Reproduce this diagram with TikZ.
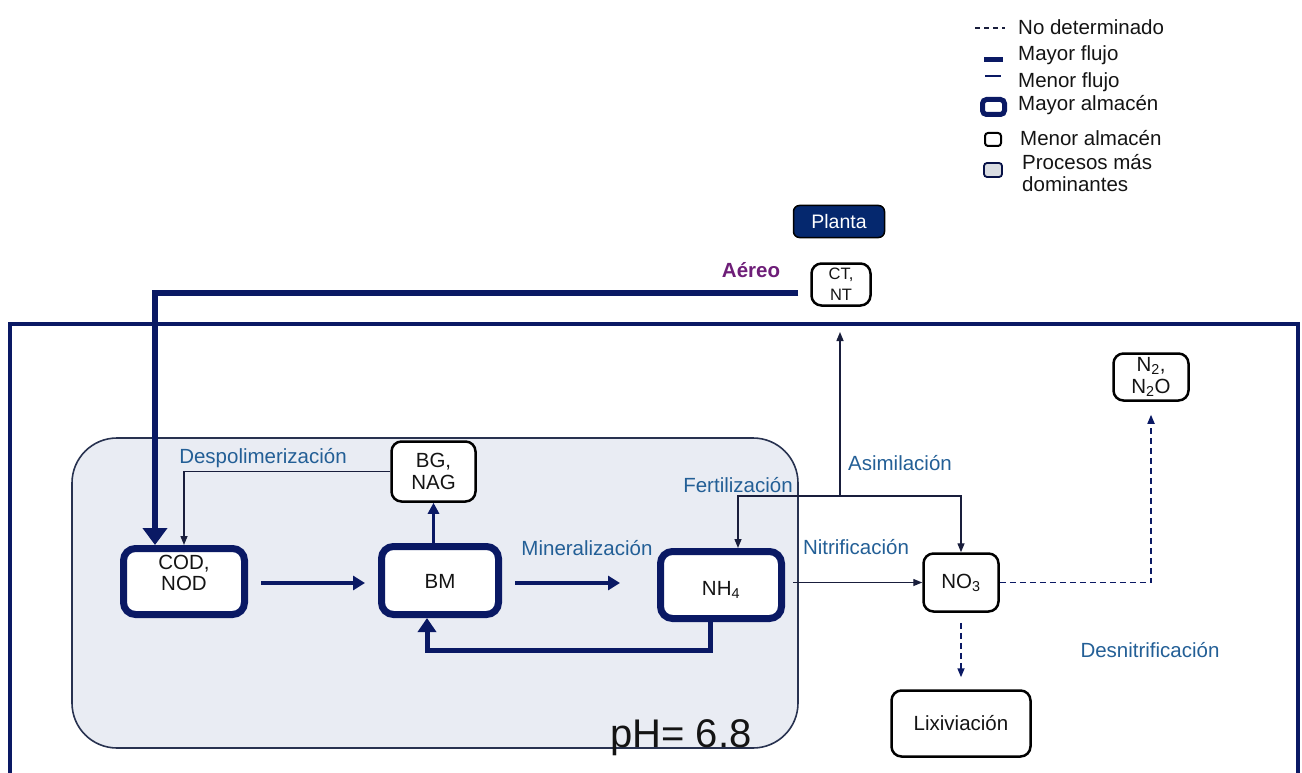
\documentclass[tikz,border=0pt]{standalone}
\usepackage{fontspec}
\setmainfont{Liberation Sans}
\usetikzlibrary{arrows.meta}
\definecolor{navy}{RGB}{10,25,100}
\definecolor{thinc}{RGB}{25,30,60}
\definecolor{lblue}{RGB}{35,95,150}
\definecolor{regionfill}{RGB}{233,236,243}
\definecolor{regiondraw}{RGB}{40,50,80}
\definecolor{aereo}{RGB}{110,30,120}
\definecolor{plantfill}{RGB}{5,40,110}
\definecolor{txt}{RGB}{20,20,20}
\begin{document}
\begin{tikzpicture}[x=1pt,y=-1pt,
  bigbox/.style={draw=navy, line width=7pt, rounded corners=12pt, fill=white, inner sep=0pt},
  smallbox/.style={draw=black, line width=2.5pt, rounded corners=10pt, fill=white, inner sep=0pt, align=center, text=txt, font=\fontsize{20.5}{22}\selectfont},
  boxtext/.style={inner sep=0pt, align=center, text=txt, font=\fontsize{20.5}{21}\selectfont},
  lbl/.style={text=lblue, font=\fontsize{20.5}{23}\selectfont, inner sep=0pt},
  leg/.style={anchor=west, text=txt, font=\fontsize{20.5}{22}\selectfont, inner sep=0pt, align=left},
  flow/.style={draw=navy, line width=4pt, -{Triangle[length=12pt,width=14pt]}},
  bigflow/.style={draw=navy, line width=6pt, -{Triangle[length=12pt,width=16pt]}},
  thinflow/.style={draw=thinc, line width=1.4pt, -{Triangle[length=9pt,width=7pt]}},
  dashflow/.style={draw=navy, line width=1.6pt, dash pattern=on 6pt off 4pt, -{Triangle[length=9pt,width=7pt]}}
]
\useasboundingbox (0,0) rectangle (1302,773);
\clip (0,0) rectangle (1302,773);

% outer frame
\draw[navy, line width=4.5pt] (10,790) -- (10,324) -- (1298,324) -- (1298,790);

% dominant-process region
\draw[regiondraw, line width=1.6pt, fill=regionfill, rounded corners=45pt] (72,438) rectangle (798,748);
\node[anchor=base west, inner sep=0pt, text=txt, font=\fontsize{40}{44}\selectfont] (ph) at (610,747) {pH= 6.8};

% legend
\coordinate (l1a) at (975,28); \coordinate (l1b) at (1005,28);
\draw[thinc, line width=1.4pt, dash pattern=on 5pt off 4pt] (l1a) -- (l1b);
\node[leg] (t1) at (1018,27) {No determinado};
\coordinate (l2a) at (984,60); \coordinate (l2b) at (1003,60);
\draw[navy, line width=5pt] (l2a) -- (l2b);
\node[leg] (t2) at (1018,55) {Mayor flujo};
\coordinate (l3a) at (985,76); \coordinate (l3b) at (1001,76);
\draw[navy, line width=1.2pt] (l3a) -- (l3b);
\node[leg] (t3) at (1018,82) {Menor flujo};
\node[draw=navy, line width=5pt, rounded corners=4pt, minimum width=22pt, minimum height=15pt, inner sep=0pt] (b4) at (993.5,107) {};
\node[leg] (t4) at (1018,105) {Mayor almacén};
\node[draw=black, line width=2pt, rounded corners=3pt, minimum width=16pt, minimum height=13pt, inner sep=0pt] (b5) at (993,139.5) {};
\node[leg] (t5) at (1020,138) {Menor almacén};
\node[draw=navy!70!black, line width=1.8pt, fill=regionfill!85!gray, rounded corners=3pt, minimum width=18pt, minimum height=14pt, inner sep=0pt] (b6) at (993,170) {};
\node[leg, anchor=north west, font=\fontsize{20.5}{22.5}\selectfont] (t6) at (1022,154) {Procesos más\\dominantes};

% plant
\node[draw=black, line width=1.5pt, fill=plantfill, rounded corners=6pt, minimum width=91pt, minimum height=32pt, inner sep=0pt, text=white, font=\fontsize{19.5}{21}\selectfont] (planta) at (839,221.5) {Planta};
\node[smallbox, minimum width=59pt, minimum height=42pt, font=\fontsize{16.5}{21}\selectfont] (ct) at (841,284.5) {CT,\\NT};
\node[inner sep=0pt, text=aereo, font=\bfseries\fontsize{20.5}{23}\selectfont] (aer) at (751,270) {Aéreo};

% main boxes
\node[bigbox, minimum width=121pt, minimum height=66pt] (cod) at (184,581.5) {};
\node[boxtext] (codt) at (184,573) {COD,\\NOD};
\node[bigbox, minimum width=117pt, minimum height=68pt] (bm) at (440,580.5) {};
\node[boxtext] (bmt) at (440,581) {BM};
\node[bigbox, minimum width=121pt, minimum height=67pt] (nh4) at (721,585) {};
\node[boxtext] (nh4t) at (721,590) {NH\textsubscript{4}};
\node[smallbox, minimum width=84pt, minimum height=60pt] (bg) at (433.5,471.5) {BG,\\NAG};
\node[smallbox, minimum width=75pt, minimum height=58pt] (no3) at (961,582.5) {NO\textsubscript{3}};
\node[smallbox, minimum width=75pt, minimum height=47pt] (n2) at (1151,377) {N\textsubscript{2},\\N\textsubscript{2}O};
\node[smallbox, minimum width=139pt, minimum height=66pt] (lix) at (961,723.5) {Lixiviación};

% labels
\node[lbl] (ldesp) at (263,458) {Despolimerización};
\node[lbl] (lmin) at (587,548) {Mineralización};
\node[lbl] (lnit) at (856,547) {Nitrificación};
\node[lbl] (lasi) at (900,463) {Asimilación};
\node[lbl] (lfer) at (738,485) {Fertilización};
\node[lbl] (lden) at (1150,650) {Desnitrificación};

% connectors
\draw[bigflow, line join=miter, -{Triangle[length=17pt,width=24pt]}] ([xshift=-12pt,yshift=-8pt]ct.west) -| ([xshift=-29pt]cod.north);
\draw[thinflow] (bg.west) -| (cod.north);
\draw[flow, line width=3pt, -{Triangle[length=11pt,width=11pt]}] (bm.north -| bg.south) -- (bg.south);
\draw[flow, shorten <=13pt, shorten >=13pt] (cod.east |- 0,583) -- (bm.west |- 0,583);
\draw[flow, shorten <=13pt, shorten >=37pt] (bm.east |- 0,583) -- (nh4.west |- 0,583);
\draw[bigflow, line width=5pt, line join=miter, -{Triangle[length=14pt,width=18pt]}] ([xshift=-11pt]nh4.south) -- ++(0,28) -| ([xshift=-13pt]bm.south);
\draw[thinflow, shorten <=8pt] (nh4.east |- no3.west) -- (no3.west);

\coordinate (j) at (840,496);
\coordinate (asimtip) at (840,332);
\draw[thinflow] (j) -- (asimtip);
\draw[thinflow] (j) -| ([xshift=17pt]nh4.north);
\draw[thinflow] (j) -| (no3.north);

\draw[dashflow, shorten >=13pt] (no3.east) -| (n2.south);
\draw[dashflow, shorten <=10pt, shorten >=12pt] (no3.south) -- (lix.north);
\end{tikzpicture}
\end{document}
